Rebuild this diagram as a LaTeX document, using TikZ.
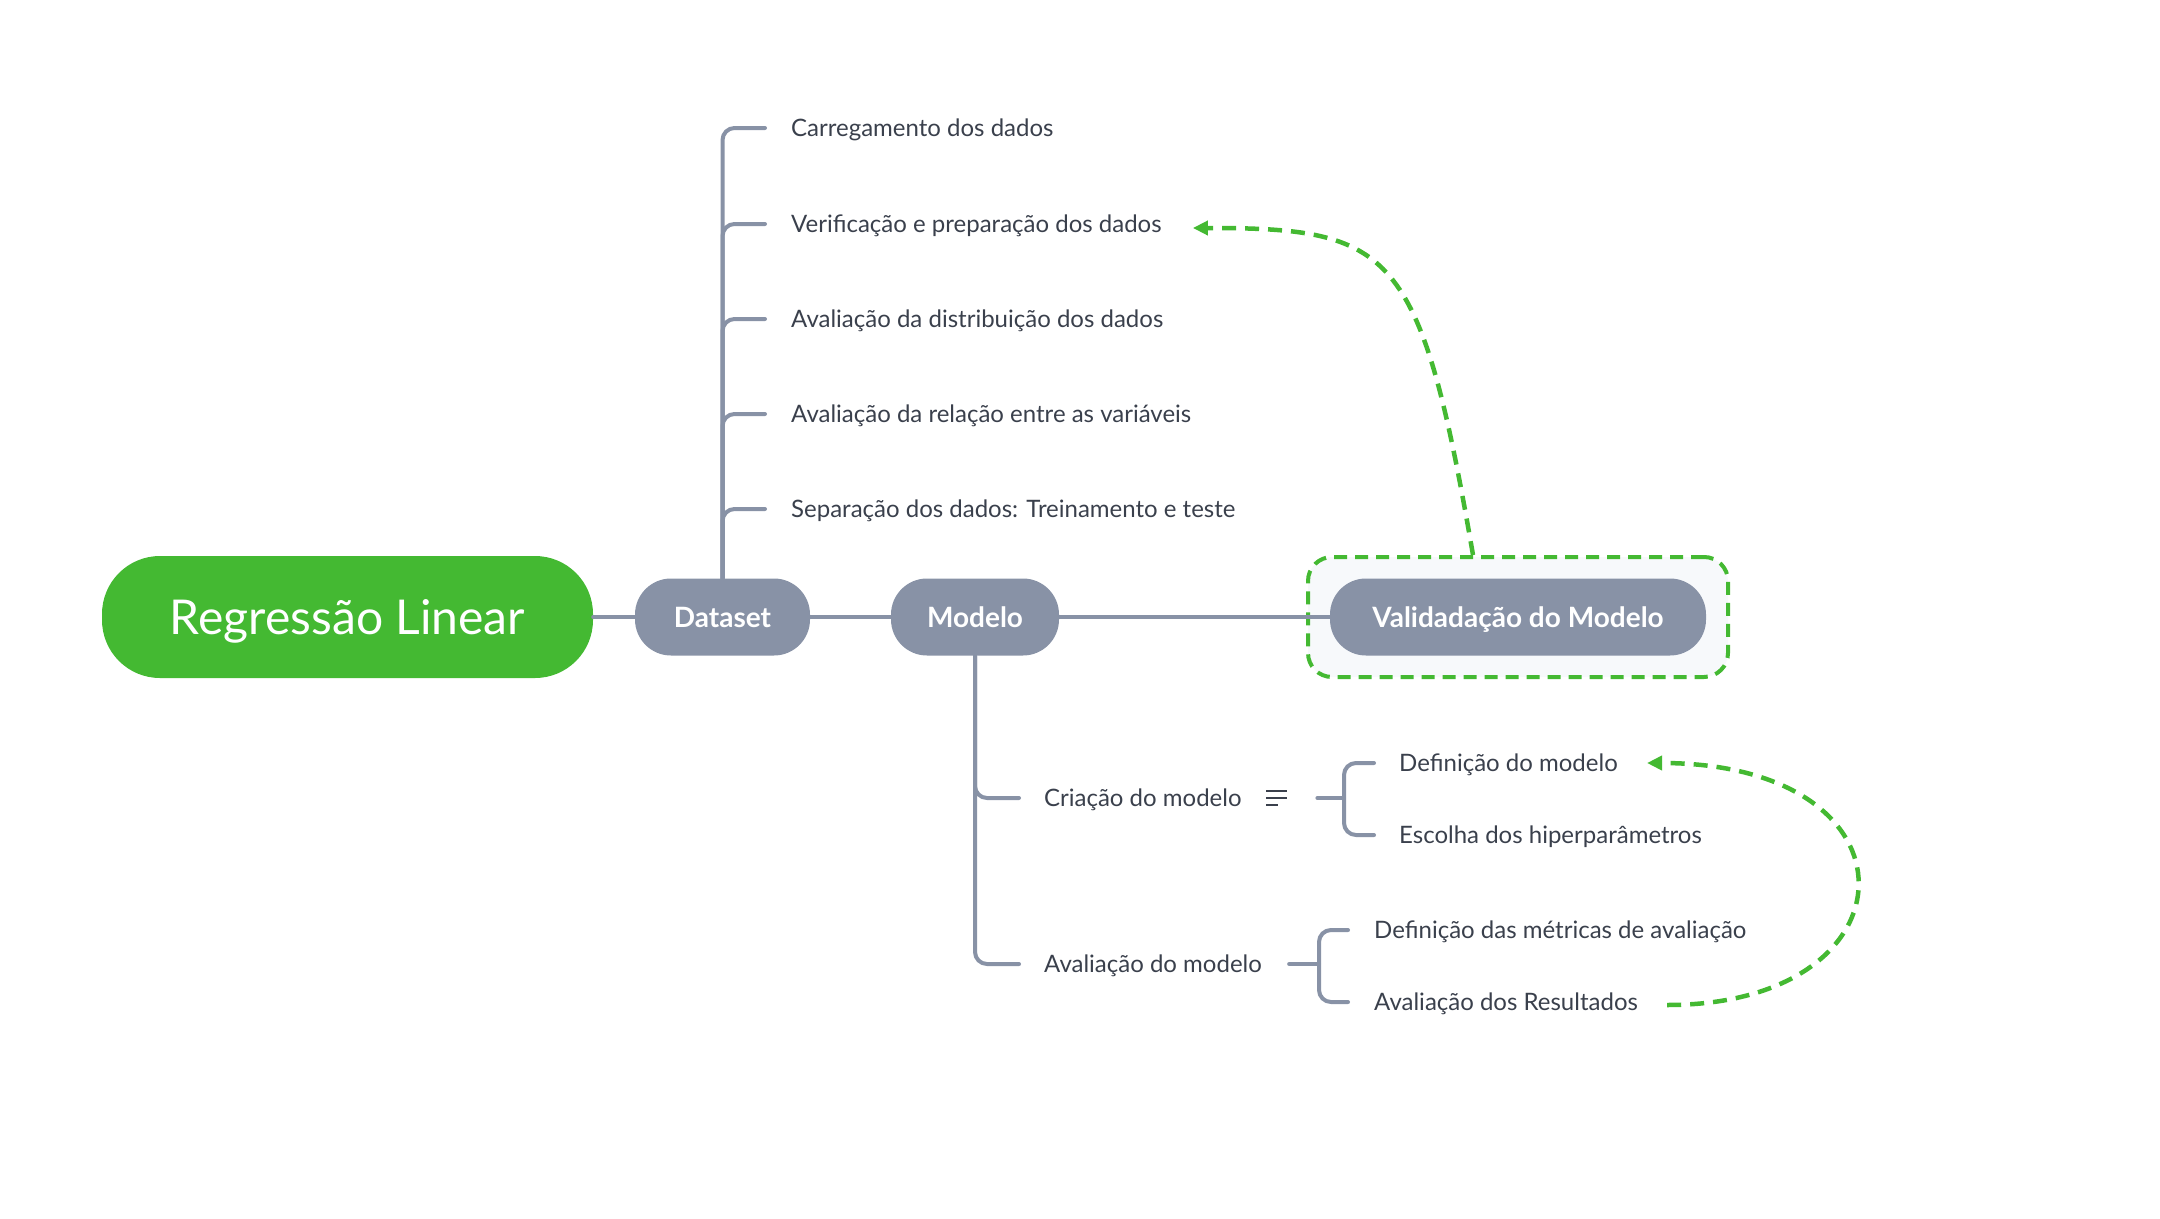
\documentclass[tikz,border=0pt]{standalone}
\usepackage{fontspec}
\setmainfont{Lato}
\usetikzlibrary{arrows.meta}
\usetikzlibrary{positioning}
\definecolor{xgreen}{RGB}{68,185,50}
\definecolor{xgray}{RGB}{136,146,166}
\definecolor{xtext}{RGB}{58,64,76}
\definecolor{xpale}{RGB}{247,249,251}
\tikzstyle{root} = [rectangle, rounded corners=58pt, fill=xgreen, text=white, minimum width=491pt, minimum height=122pt, text height=35pt, text depth=0pt, font=\fontsize{48}{52}\selectfont]
\tikzstyle{topic} = [rectangle, rounded corners=36pt, fill=xgray, text=white, minimum height=77pt, inner xsep=10pt, text height=20pt, text depth=0pt, font=\fontsize{28}{31}\selectfont\bfseries]
\tikzstyle{leaf} = [anchor=west, inner sep=0pt, text=xtext, text height=17pt, text depth=0pt, font=\fontsize{24}{27}\selectfont]
\tikzstyle{notes} = [anchor=west, inner sep=0pt, minimum width=21pt, minimum height=13pt]
\tikzstyle{branch} = [draw=xgray, line width=4pt, line cap=round, rounded corners=12pt]
\tikzstyle{link} = [draw=xgreen, line width=4.5pt, dash pattern=on 14pt off 9pt, -{Triangle[length=15pt,width=14pt]}]

\begin{document}
\begin{tikzpicture}[x=1pt,y=-1pt]
\useasboundingbox (0,0) rectangle (2160,1218);
% central topics
\node (valbox) [rectangle, rounded corners=24pt, draw=xgreen, fill=xpale, line width=4pt, dash pattern=on 13pt off 8pt, minimum width=420pt, minimum height=120pt] at (1518,617) {};
\node (root) [root] at (347.5,617) {Regressão Linear};
\node (dataset) [topic, minimum width=175pt] at (722.5,617) {Dataset};
\node (modelo) [topic, minimum width=168pt] at (975,617) {Modelo};
\node (valid) [topic, minimum width=376pt] at (valbox.center) {Validadação do Modelo};
\draw[branch] (root) -- (dataset);
\draw[branch] (dataset) -- (modelo);
\draw[branch] (modelo) -- (valid);

% Dataset
\node (carga) [leaf] at (791,128) {Carregamento dos dados};
\node (verif) [leaf] at (791,224) {Verificação e preparação dos dados};
\node (distr) [leaf] at (791,319) {Avaliação da distribuição dos dados};
\node (relac) [leaf] at (791,414) {Avaliação da relação entre as variáveis};
\node (separ) [leaf] at (791,509) {Separação dos dados: Treinamento e teste};
\foreach \i in {carga,verif,distr,relac,separ}
  \draw[branch] (dataset.north) |- ([xshift=-26pt]\i.west);

% Modelo
\node (criacao) [leaf] at (1044,798) {Criação do modelo};
\node (avaliacao) [leaf] at (1044,964) {Avaliação do modelo};
\foreach \i in {criacao,avaliacao}
  \draw[branch] (modelo.south) |- ([xshift=-25pt]\i.west);
\node (nota) [notes] at (1266,798) {};
\draw[xtext, line width=1.8pt] (nota.north west) -- (nota.north east)
  (nota.west) -- (nota.east) (nota.south west) -- ([xshift=-9pt]nota.south east);

\coordinate (b1) at (1344,798);
\coordinate (b2) at (1319,964);
\node (defmod) [leaf] at (1399,763) {Definição do modelo};
\node (escolha) [leaf] at (1399,835) {Escolha dos hiperparâmetros};
\node (metricas) [leaf] at (1374,930) {Definição das métricas de avaliação};
\node (resultados) [leaf] at (1374,1002) {Avaliação dos Resultados};
\draw[branch] ([xshift=30pt]nota.east) -- (b1);
\draw[branch] ([xshift=-25pt]defmod.west) -| (b1) |- ([xshift=-25pt]escolha.west);
\draw[branch] ([xshift=27pt]avaliacao.east) -- (b2);
\draw[branch] ([xshift=-26pt]metricas.west) -| (b2) |- ([xshift=-26pt]resultados.west);

% relationships
\draw[link] ([xshift=-45pt]valbox.north) .. controls +(-53,-307) and +(200,0) .. ([xshift=31pt,yshift=-4pt]verif.east);
\draw[link] ([xshift=29pt,yshift=-3pt]resultados.east) .. controls +(252,0) and +(281,0) .. ([xshift=29pt]defmod.east);
\end{tikzpicture}
\end{document}
